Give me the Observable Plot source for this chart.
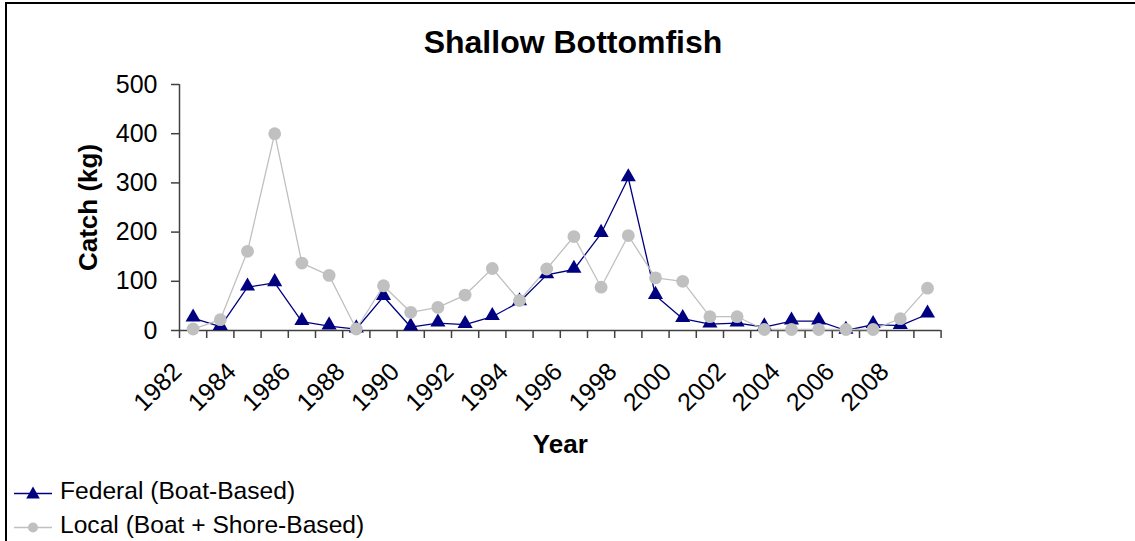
<!DOCTYPE html>
<html>
<head>
<meta charset="utf-8">
<script src="https://cdn.jsdelivr.net/npm/d3@7"></script>
<script src="https://cdn.jsdelivr.net/npm/@observablehq/plot@0.6"></script>
<style>
  html, body { margin: 0; padding: 0; background: #fff; }
  body { font-family: "Liberation Sans", Arial, sans-serif; color: #000; }
  #wrap { position: relative; width: 1135px; height: 541px; overflow: hidden; background: #fff; }
  #frame { position: absolute; left: 5px; top: 2px; width: 1300px; height: 700px;
           border-left: 2px solid #000; border-top: 2px solid #000; box-sizing: border-box; }
  #title { position: absolute; left: 0; width: 1146px; top: 27px; text-align: center;
           font-weight: bold; font-size: 32px; line-height: 31px; white-space: nowrap; }
  #chart { position: absolute; left: 0; top: 60px; }
  .leg { position: absolute; left: 0; height: 34px; font-size: 24.6px; line-height: 24px; white-space: nowrap; }
  .leg svg { position: absolute; left: 12px; top: 0; }
  .leg span { position: absolute; left: 60px; top: 0; }
</style>
</head>
<body>
<div id="wrap">
  <div id="frame"></div>
  <div id="title"></div>
  <div id="chart"></div>
  <div id="legend"></div>
</div>
<script>
// ---- data ----
const titleText = "Shallow Bottomfish";
const xTitle = "Year";
const yTitle = "Catch (kg)";
const years = [1982, 1983, 1984, 1985, 1986, 1987, 1988, 1989, 1990, 1991, 1992, 1993, 1994, 1995,
               1996, 1997, 1998, 1999, 2000, 2001, 2002, 2003, 2004, 2005, 2006, 2007, 2008, 2009];
const federal = [25, 8, 88, 97, 18, 9, 3, 69, 7, 15, 12, 28, 58, 113,
                 124, 197, 310, 71, 24, 13, 15, 7, 19, 19, 0, 12, 10, 33];
const local = [3, 22, 161, 400, 137, 112, 3, 91, 37, 47, 72, 126, 61, 125,
               191, 88, 193, 107, 100, 28, 28, 2, 2, 2, 2, 2, 24, 86];
const xTickLabels = ["1982", "1984", "1986", "1988", "1990", "1992", "1994", "1996", "1998", "2000", "2002", "2004", "2006", "2008"];
const yTicks = [0, 100, 200, 300, 400, 500];
const seriesNames = ["Federal (Boat-Based)", "Local (Boat + Shore-Based)"];
const seriesColors = ["#000080", "#C0C0C0"];

// ---- build ----
document.getElementById("title").textContent = titleText;

const rows = years.map((yr, i) => ({year: yr, federal: federal[i], local: local[i]}));
const boundaries = d3.range(years[0], years[years.length - 1] + 2);
const axisColor = "#404040";

const chart = Plot.plot({
  width: 1135,
  height: 400,
  marginTop: 24,
  marginBottom: 130,
  marginLeft: 179,
  marginRight: 194.4,
  style: {fontFamily: "Liberation Sans, Arial, sans-serif", background: "transparent", overflow: "visible", color: "#000"},
  x: {type: "linear", domain: [years[0], years[years.length - 1] + 1]},
  y: {type: "linear", domain: [0, 500]},
  marks: [
    Plot.axisY({ticks: yTicks, tickSize: 8, tickPadding: 14, fontSize: 25, stroke: axisColor, strokeWidth: 1.5, fill: "#000", label: null, tickFormat: d => String(d)}),
    Plot.axisX({ticks: boundaries, tickSize: 8, stroke: axisColor, strokeWidth: 1.5, label: null, tickFormat: () => ""}),
    Plot.ruleY([0], {stroke: axisColor, strokeWidth: 1.5}),
    Plot.ruleX([years[0]], {stroke: axisColor, strokeWidth: 1.5}),
    Plot.text(xTickLabels, {x: d => +d, text: d => d, frameAnchor: "bottom", rotate: -45, textAnchor: "end", lineAnchor: "middle", dx: -2, dy: 37, fontSize: 25, fill: "#000"}),
    Plot.text([xTitle], {x: () => (years[0] + years[years.length - 1] + 1) / 2, frameAnchor: "bottom", textAnchor: "middle", lineAnchor: "middle", dy: 114, fontSize: 26, fontWeight: "bold", fill: "#000"}),
    Plot.text([yTitle], {frameAnchor: "left", rotate: -90, textAnchor: "middle", lineAnchor: "middle", dx: -91, fontSize: 26, fontWeight: "bold", fill: "#000"}),
    Plot.line(rows, {x: d => d.year + 0.5, y: "federal", stroke: seriesColors[0], strokeWidth: 1.3}),
    Plot.line(rows, {x: d => d.year + 0.5, y: "local", stroke: seriesColors[1], strokeWidth: 1.3}),
    Plot.dot(rows, {x: d => d.year + 0.5, y: "federal", symbol: "triangle", r: 5.6, fill: seriesColors[0], dy: -1}),
    Plot.dot(rows, {x: d => d.year + 0.5, y: "local", symbol: "circle", r: 6.4, fill: seriesColors[1]})
  ]
});
document.getElementById("chart").appendChild(chart);

// ---- legend ----
const legend = document.getElementById("legend");
const legTops = [479, 512.5];
seriesNames.forEach((name, i) => {
  const row = document.createElement("div");
  row.className = "leg";
  row.style.top = legTops[i] + "px";
  const sym = i === 0
    ? `<polygon points="21,7.5 27.8,19.5 14.2,19.5" fill="${seriesColors[0]}"/>`
    : `<circle cx="21" cy="14.5" r="5" fill="${seriesColors[1]}"/>`;
  row.innerHTML = `<svg width="42" height="30"><line x1="2" x2="40" y1="14.5" y2="14.5" stroke="${seriesColors[i]}" stroke-width="1.3"/>${sym}</svg><span></span>`;
  row.querySelector("span").textContent = name;
  legend.appendChild(row);
});
</script>
</body>
</html>
